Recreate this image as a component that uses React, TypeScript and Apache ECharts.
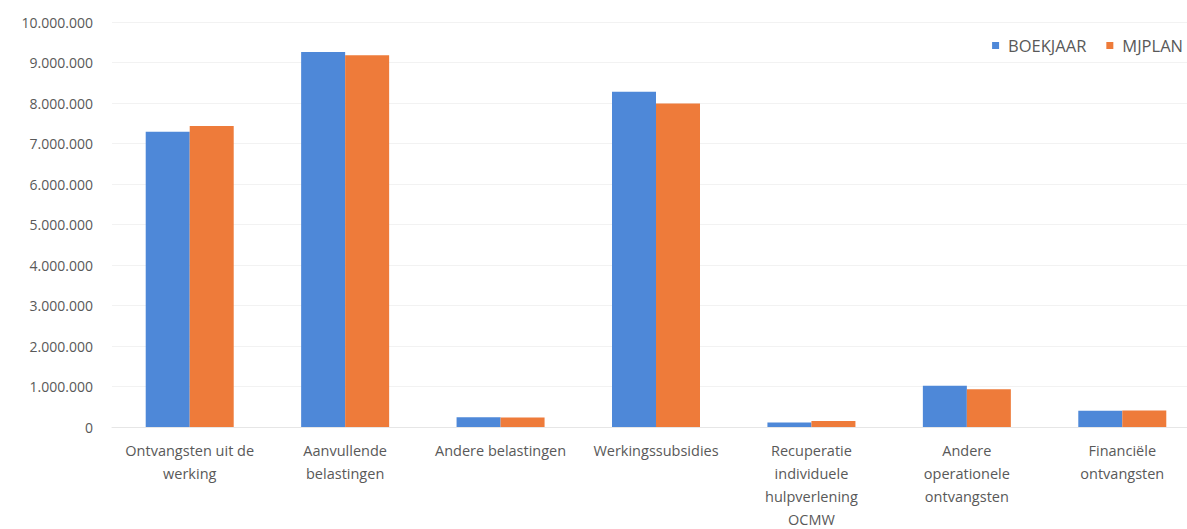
import React, { useEffect, useRef } from "react";
import * as echarts from "echarts";

const categories = [
  "Ontvangsten uit de\nwerking",
  "Aanvullende\nbelastingen",
  "Andere belastingen",
  "Werkingssubsidies",
  "Recuperatie\nindividuele\nhulpverlening\nOCMW",
  "Andere\noperationele\nontvangsten",
  "Financiële\nontvangsten",
];
const boekjaar = [7290000, 9260000, 240000, 8280000, 110000, 1020000, 400000];
const mjplan = [7430000, 9180000, 235000, 7990000, 150000, 930000, 410000];
const seriesNames = ["BOEKJAAR", "MJPLAN"];

const fmt = (v: number) => String(Math.round(v)).replace(/\B(?=(\d{3})+(?!\d))/g, ".");

export default function App() {
  const ref = useRef<HTMLDivElement>(null);
  useEffect(() => {
    const chart = echarts.init(ref.current!, null, { renderer: "svg" });
    const font = "Open Sans";
    chart.setOption({
      animation: false,
      backgroundColor: "#ffffff",
      textStyle: { fontFamily: font },
      legend: {
        data: seriesNames,
        top: 32,
        right: -1,
        itemWidth: 7,
        itemHeight: 7,
        itemGap: 20,
        icon: "rect",
        textStyle: {
          color: "#595959",
          fontSize: 16.5,
          fontFamily: font,
          padding: [0, 0, 0, 4],
        },
      },
      grid: {
        left: 112,
        right: -13,
        top: 22,
        bottom: 102,
        containLabel: false,
        outerBoundsMode: "none",
      },
      xAxis: {
        type: "category",
        data: categories,
        axisTick: { show: false },
        axisLine: { show: true, lineStyle: { color: "#e6e6e6" } },
        axisLabel: {
          interval: 0,
          color: "#595959",
          fontSize: 14.5,
          lineHeight: 23,
          margin: 12,
          fontFamily: font,
        },
      },
      yAxis: {
        type: "value",
        min: 0,
        max: 10000000,
        interval: 1000000,
        axisLine: { show: false },
        axisTick: { show: false },
        splitLine: { lineStyle: { color: "#f2f2f2" } },
        axisLabel: {
          color: "#595959",
          fontSize: 14,
          margin: 19,
          fontFamily: font,
          formatter: (v: number) => fmt(v),
        },
      },
      series: [
        {
          name: seriesNames[0],
          type: "bar",
          data: boekjaar,
          barWidth: 44,
          barGap: "0%",
          itemStyle: { color: "#4e88d8" },
        },
        {
          name: seriesNames[1],
          type: "bar",
          data: mjplan,
          barWidth: 44,
          barGap: "0%",
          itemStyle: { color: "#ee7b3a" },
        },
      ],
    });
    return () => chart.dispose();
  }, []);
  return (
    <div
      ref={ref}
      style={{ position: "fixed", left: 0, top: 0, width: 1187, height: 529 }}
    />
  );
}
